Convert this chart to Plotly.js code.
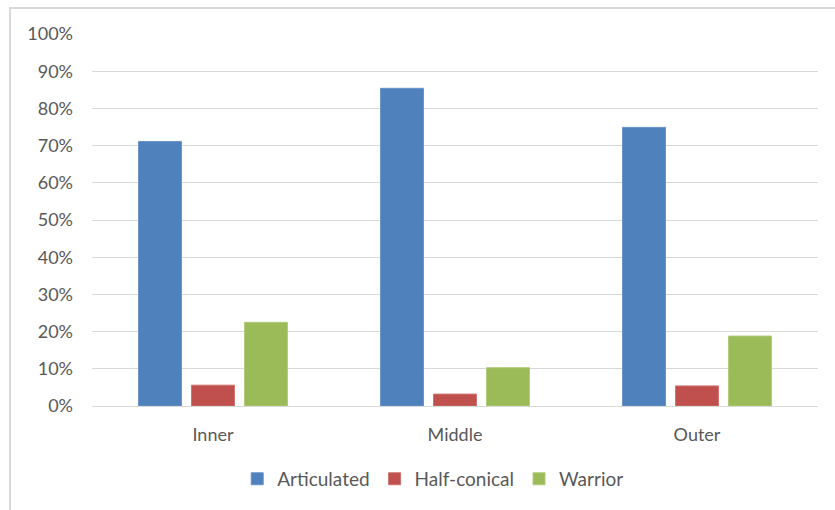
<!DOCTYPE html>
<html>
<head>
<meta charset="utf-8">
<script src="https://cdn.plot.ly/plotly-3.0.1.min.js"></script>
<style>
  html, body { margin: 0; padding: 0; background: #fff; }
  #wrap { position: relative; width: 835px; height: 510px; }
  #chart { position: absolute; left: 0; top: 0; width: 835px; height: 510px; }
  #frame { position: absolute; left: 9px; top: 7px; width: 840px; height: 520px;
           border-top: 2px solid #d9d9d9; border-left: 2px solid #d9d9d9; pointer-events: none; }
</style>
</head>
<body>
<div id="wrap">
  <div id="chart"></div>
  <div id="frame"></div>
</div>
<script>
const categories = ["Inner", "Middle", "Outer"];
const articulated = [0.711, 0.854, 0.749];
const halfConical = [0.056, 0.032, 0.054];
const warrior = [0.225, 0.103, 0.188];
const seriesNames = ["Articulated", "Half-conical", "Warrior"];
const tickVals = [0, 0.1, 0.2, 0.3, 0.4, 0.5, 0.6, 0.7, 0.8, 0.9, 1.0];
const tickText = ["0%", "10%", "20%", "30%", "40%", "50%", "60%", "70%", "80%", "90%", "100%"];

const colors = ["#4f81bd", "#c0504d", "#9bbb59"];
const lines = ["#6a93c8", "#cf7270", "#b0cc7a"];
const series = [articulated, halfConical, warrior];

const traces = series.map((vals, i) => ({
  type: "bar",
  name: seriesNames[i],
  x: categories,
  y: vals,
  marker: { color: colors[i], line: { color: lines[i], width: 1 } },
  hoverinfo: "none"
}));

const tickFont = { family: "Lato, 'Open Sans', sans-serif", size: 18, color: "#595959" };
const legendFont = { family: "Lato, 'Open Sans', sans-serif", size: 19, color: "#595959" };

const layout = {
  width: 835, height: 510,
  margin: { l: 92, r: 17, t: 34, b: 104 },
  paper_bgcolor: "#ffffff",
  plot_bgcolor: "#ffffff",
  barmode: "group",
  bargap: 0.343,
  bargroupgap: 0.19,
  font: tickFont,
  showlegend: true,
  legend: {
    orientation: "h",
    x: 0.47, xanchor: "center",
    y: -0.196, yanchor: "middle",
    font: legendFont,
    itemwidth: 30,
    traceorder: "normal"
  },
  xaxis: {
    type: "category",
    showgrid: false,
    showline: false,
    zeroline: false,
    ticks: "",
    tickfont: tickFont,
    ticklabelstandoff: 16
  },
  yaxis: {
    range: [0, 1.0],
    tickvals: tickVals,
    ticktext: tickText,
    showgrid: true,
    gridcolor: "#d9d9d9",
    gridwidth: 1,
    zeroline: true,
    zerolinecolor: "#d9d9d9",
    zerolinewidth: 1,
    showline: false,
    ticks: "",
    tickfont: tickFont,
    ticklabelstandoff: 18
  }
};

Plotly.newPlot("chart", traces, layout, { staticPlot: true, displayModeBar: false });
</script>
</body>
</html>
